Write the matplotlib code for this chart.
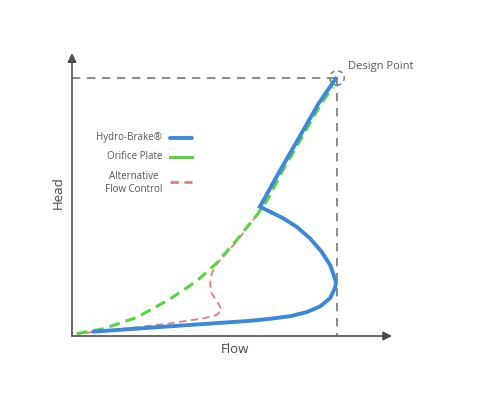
import numpy as np
import matplotlib.pyplot as plt
from matplotlib.patches import Ellipse

# flow / head, normalised so the design point is (1, 1)
hydro_flow = [0.080, 0.206, 0.332, 0.458, 0.558, 0.672, 0.747, 0.823, 0.886, 0.936,
              0.974, 0.992, 0.996, 0.992, 0.974, 0.942, 0.898, 0.848, 0.797, 0.747,
              0.709, 0.785, 0.858, 0.930, 0.996]
hydro_head = [0.013, 0.022, 0.031, 0.040, 0.047, 0.055, 0.063, 0.073, 0.089, 0.111,
              0.143, 0.182, 0.202, 0.221, 0.272, 0.324, 0.376, 0.421, 0.454, 0.480,
              0.499, 0.640, 0.770, 0.900, 0.999]

orifice_flow = [0.018, 0.118, 0.244, 0.370, 0.471, 0.546, 0.622, 0.700, 0.740,
                0.795, 0.840, 0.890, 0.940, 0.985]
orifice_head = [0.005, 0.024, 0.068, 0.140, 0.210, 0.280, 0.370, 0.470, 0.530,
                0.640, 0.720, 0.810, 0.900, 0.965]

alt_flow = [0.720, 0.700, 0.660, 0.622, 0.580, 0.545, 0.528, 0.521, 0.527, 0.552,
            0.565, 0.546, 0.496, 0.370, 0.244, 0.118, 0.018]
alt_head = [0.510, 0.470, 0.415, 0.365, 0.315, 0.275, 0.240, 0.200, 0.162, 0.123,
            0.097, 0.078, 0.065, 0.045, 0.030, 0.016, 0.004]

design_point = (1.0, 1.0)
labels = ['Hydro-Brake®', 'Orifice Plate', 'Alternative\nFlow Control']

blue = '#3a88dc'
green = '#55d63c'
red = '#e08078'
grey = '#777777'
txt = '#555555'

plt.rcParams['font.family'] = ['Open Sans', 'DejaVu Sans']

fig = plt.figure(figsize=(4.8, 4.09), dpi=100)
ax = fig.add_axes([0, 0, 1, 1])
ax.set_xlim(-0.2717, 1.5396)
ax.set_ylim(-0.288, 1.3035)
ax.axis('off')

# guide lines to design point
ax.plot([0, design_point[0]], [design_point[1], design_point[1]], color=grey,
        lw=1.2, dashes=(5, 4))
ax.plot([design_point[0], design_point[0]], [design_point[1], -0.004], color=grey,
        lw=1.2, dashes=(5, 4))
ax.add_patch(Ellipse(design_point, 0.054, 0.056, fill=False, ec=grey, lw=1.1,
                     ls=(0, (3, 2.5))))

# axes with arrows
ax.annotate('', xy=(0, 1.097), xytext=(0, -0.004),
            arrowprops=dict(arrowstyle='-|>', color='#4d4d4d', lw=1.2,
                            mutation_scale=13, shrinkA=0, shrinkB=0))
ax.annotate('', xy=(1.208, -0.004), xytext=(0, -0.004),
            arrowprops=dict(arrowstyle='-|>', color='#4d4d4d', lw=1.2,
                            mutation_scale=13, shrinkA=0, shrinkB=0))

# curves
ax.plot(alt_flow, alt_head, color=red, lw=1.3, dashes=(4, 2.5), zorder=2)
ax.plot(orifice_flow, orifice_head, color=green, lw=2.2, dashes=(3.5, 2), zorder=3)
ax.plot(hydro_flow, hydro_head, color=blue, lw=2.8, solid_joinstyle='miter',
        solid_capstyle='round', zorder=4)

# legend drawn by hand
ax.text(0.34, 0.767, labels[0], ha='right', va='center', color=txt, fontsize=7)
ax.text(0.34, 0.693, labels[1], ha='right', va='center', color=txt, fontsize=7)
ax.text(0.34, 0.591, labels[2], ha='right', va='center', ma='center', color=txt,
        fontsize=7, linespacing=1.25)
ax.plot([0.37, 0.453], [0.767, 0.767], color=blue, lw=2.8, solid_capstyle='round')
ax.plot([0.37, 0.453], [0.693, 0.693], color=green, lw=2.2)
ax.plot([0.37, 0.453], [0.595, 0.595], color=red, lw=2.0, dashes=(3, 2))

ax.text(1.042, 1.043, 'Design Point', ha='left', va='center', color=txt, fontsize=8)
ax.text(0.615, -0.058, 'Flow', ha='center', va='center', color='#444444', fontsize=9.5)
ax.text(-0.053, 0.553, 'Head', ha='center', va='center', rotation=90,
        color='#444444', fontsize=9.5)

fig.savefig('out.png', dpi=100, facecolor='white')
